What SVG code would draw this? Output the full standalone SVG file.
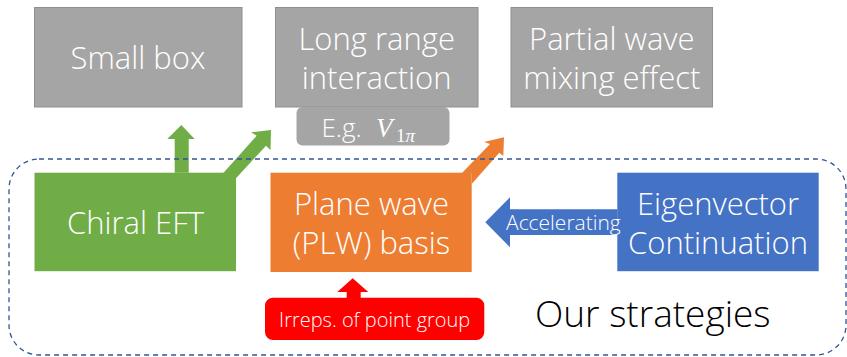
<svg xmlns="http://www.w3.org/2000/svg" width="847" height="357" viewBox="0 0 847 357">
<style>
.t{font-family:"Open Sans","Noto Sans","Liberation Sans",sans-serif;font-weight:300;fill:#ffffff;text-anchor:middle}
.ts{font-family:"Open Sans","Noto Sans","Liberation Sans",sans-serif;font-weight:300;fill:#ffffff;text-anchor:start}
.m{font-size:31px}
.grey{fill:#a5a5a5;stroke:#8f8f8f;stroke-width:1}
</style>
<rect width="847" height="357" fill="#ffffff"/>
<g id="small-box">
<rect class="grey" x="34.5" y="7.5" width="207.5" height="99.5"/>
<text class="t m" x="138" y="69">Small box</text>
</g>
<g id="long-range">
<rect class="grey" x="275.5" y="7.5" width="202.5" height="99.5"/>
<text class="t m" x="376.7" y="50">Long range</text>
<text class="t m" x="376.7" y="88.5">interaction</text>
</g>
<g id="eg-v1pi">
<rect x="296.5" y="107" width="153" height="38.5" rx="6" fill="#a5a5a5"/>
<text class="ts" x="321.5" y="137.3" font-size="26">E.g.</text>
<text x="376" y="137.3" font-family="'Liberation Serif','DejaVu Serif',serif" font-style="italic" font-size="27" fill="#ffffff">V</text>
<text x="396" y="142" font-family="'Liberation Serif','DejaVu Serif',serif" font-size="19" fill="#ffffff">1<tspan font-style="italic">π</tspan></text>
</g>
<g id="partial-wave">
<rect class="grey" x="511" y="7.5" width="201.5" height="99.5"/>
<text class="t m" x="611.8" y="49.5">Partial wave</text>
<text class="t m" x="611.8" y="88.5">mixing effect</text>
</g>
<g id="connectors">
<polygon fill="#70ad47" points="174.7,172.7 174.7,139 167.3,139 181.3,125 194.7,139 188.7,139 188.7,172.7"/>
<polygon fill="#70ad47" points="223.3,172.9 256.7,135.7 251,132.3 271,130 270.5,150 266,145.7 236,178.3 236,172.9"/>
<polygon fill="#ed7d31" points="462,172.9 490,144 484,142 504,137.3 503.3,156 499.3,152.7 471.7,184 471.7,172.9"/>
<polygon fill="#4472c4" points="617.5,209.3 510,209.3 510,197.3 485.3,222.3 510,247.3 510,235 617.5,235"/>
<polygon fill="#ff0000" points="346.7,298 346.7,292 337.3,292 352.7,278.3 368.3,292 360.7,292 360.7,298"/>
</g>
<g id="chiral-eft">
<rect x="34.5" y="172.7" width="201.5" height="98.5" fill="#70ad47"/>
<text class="t m" x="135.5" y="234">Chiral EFT</text>
</g>
<g id="plane-wave">
<rect x="270.5" y="172.7" width="201.2" height="99.3" fill="#ed7d31"/>
<text class="t m" x="371.5" y="215">Plane wave</text>
<text class="t m" x="371.5" y="253.5">(PLW) basis</text>
</g>
<g id="eigenvector">
<rect x="617.3" y="172.7" width="201.4" height="98.5" fill="#4472c4"/>
<text class="t m" x="718" y="215">Eigenvector</text>
<text class="t m" x="718" y="253.5">Continuation</text>
</g>
<g id="accelerating-label">
<text class="t" x="563.4" y="230" font-size="21">Accelerating</text>
</g>
<g id="irreps">
<rect x="265" y="297.7" width="219.3" height="42.3" rx="8" fill="#ff0000"/>
<text class="t" x="374.7" y="327" font-size="20">Irreps. of point group</text>
</g>
<g id="our-strategies">
<rect x="9" y="159" width="837" height="196" rx="30" fill="none" stroke="#2f5597" stroke-width="1.3" stroke-dasharray="5 4"/>
<text x="535" y="327.3" font-family="'Open Sans','Noto Sans','Liberation Sans',sans-serif" font-weight="300" font-size="37" fill="#000000">Our strategies</text>
</g>
</svg>
